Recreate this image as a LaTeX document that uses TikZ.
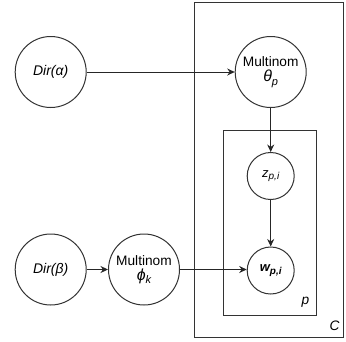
\documentclass[tikz,border=0pt]{standalone}
\usepackage{fontspec}
\setmainfont{Liberation Sans}
\usetikzlibrary{arrows.meta}
\newcommand{\isub}[3]{{\itshape #1}\raisebox{-0.4ex}{\fontsize{#3}{#3}\selectfont\itshape #2}}
\begin{document}
\begin{tikzpicture}[x=1pt,y=-1pt,
  every node/.style={font=\fontsize{13.7}{15}\selectfont},
  var/.style={circle,draw=black!80,line width=1pt,inner sep=0pt,align=center},
  big/.style={var,minimum size=71pt},
  small/.style={var,minimum size=47pt},
  plate/.style={draw=black!80,line width=1pt},
  conn/.style={draw=black!85,line width=1pt,-{Stealth[length=7.5pt,width=7pt]}}]
\useasboundingbox (0,0) rectangle (346,341);
\draw[plate] (194.3,2.7) rectangle (343.5,337.5);
\draw[plate] (223.3,130) rectangle (316,315);
\node[big] (da) at (50.7,72) {\fontsize{14}{15}\selectfont\itshape Dir(α)};
\node[big] (theta) at (270.7,72) {Multinom\\[0pt]{\fontsize{16}{17}\selectfont\isub{θ}{p}{11}}};
\node[small] (z) at (270.7,176) {\fontsize{13}{14}\selectfont\isub{z}{p,i}{10}};
\node[small] (w) at (270.7,270.5) {\fontsize{13}{14}\selectfont\bfseries\isub{w}{p,i}{10}};
\node[big] (db) at (50.7,269.5) {\fontsize{14}{15}\selectfont\itshape Dir(β)};
\node[big] (phi) at (144,269.5) {Multinom\\[0pt]{\fontsize{16}{17}\selectfont\isub{ϕ}{k}{11}}};
\node (lp) at (305.5,302) {\itshape p};
\node (lc) at (334.5,326) {\itshape C};
\draw[conn] (da) -- (theta);
\draw[conn] (theta) -- (z);
\draw[conn] (z) -- (w);
\draw[conn] (db) -- (phi);
\draw[conn] (phi.east) -- (w.west |- phi.east);
\end{tikzpicture}
\end{document}
